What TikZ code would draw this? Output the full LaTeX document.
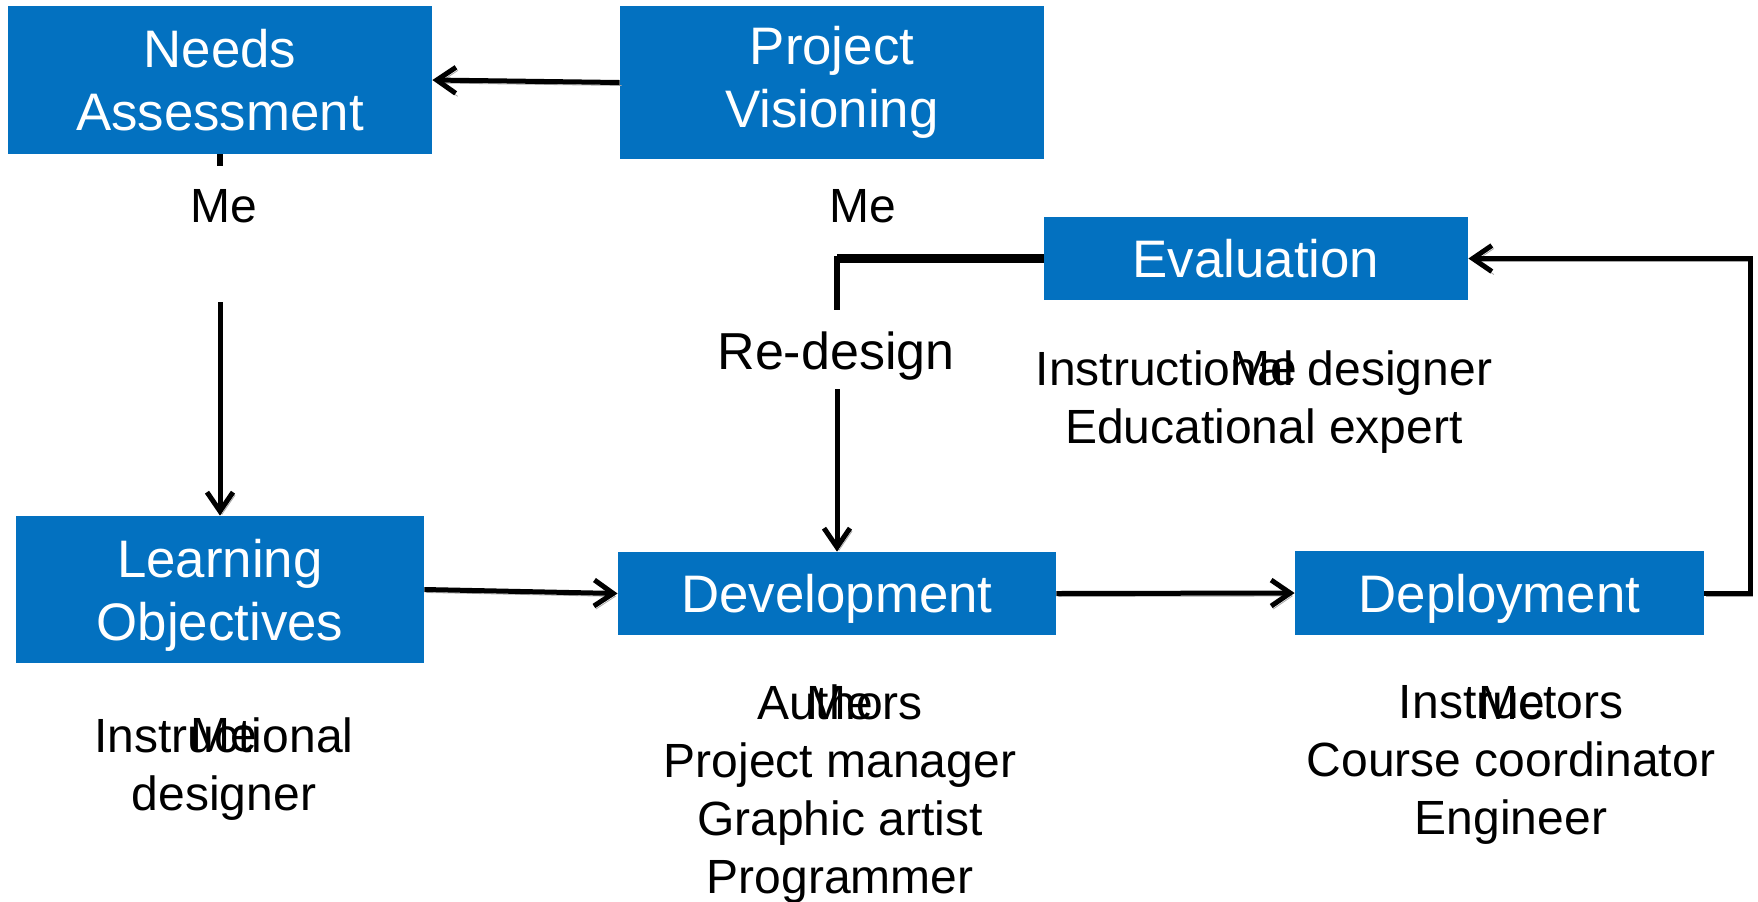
\documentclass[tikz,border=0pt]{standalone}
\usepackage{fontspec}
\setmainfont{Liberation Sans}
\usetikzlibrary{arrows.meta}
\definecolor{stageblue}{HTML}{0371C0}
\definecolor{shadowgray}{HTML}{A6A6A6}

\begin{document}
\begin{tikzpicture}[x=0.5pt, y=-0.5pt,
	stage/.style={fill=stageblue, text=white, inner sep=0pt, align=center, font=\fontsize{26.4}{31.5}\selectfont},
	role/.style={inner sep=0pt, align=center, font=\fontsize{24}{29}\selectfont},
	link/.style={line width=2.5pt, -{Straight Barb[length=9.5pt,width=13pt]}, preaction={draw=shadowgray, transform canvas={shift={(2,3)}}}},
	stub/.style={line width=3pt}]
	\useasboundingbox (0,0) rectangle (1758,901);

	\node[stage, minimum width=212pt, minimum height=74pt] (na) at (220,80) {Needs\\Assessment};
	\node[stage, minimum width=212pt, minimum height=76.5pt] (pv) at (832,82.5) {Project\\Visioning};
	\node[stage, minimum width=212pt, minimum height=41.5pt] (ev) at (1256,258.5) {Evaluation};
	\node[stage, minimum width=204pt, minimum height=73.5pt, text depth=0pt] (lo) at (220,589.5) {Learning\\Objectives};
	\node[stage, minimum width=219pt, minimum height=41.5pt, text depth=0pt] (dv) at (837,593.5) {Development};
	\node[stage, minimum width=204.5pt, minimum height=42pt, text depth=0pt] (dp) at (1499.5,593) {Deployment};

	\node[role] (naMe) at (224,206) {Me};
	\node[role] (pvMe) at (863,206) {Me};
	\node[role, font=\fontsize{26}{31}\selectfont] (redesign) at (836,356) {Re-design};
	\node[role] (evRole) at (1264,401.6) {Instructional designer\\Educational expert};
	\node[role] (evMe) at (1264,368) {Me};
	\node[role] (loRole) at (224,769) {Instructional\\designer};
	\node[role] (loMe) at (224,735) {Me};
	\node[role] (dvRole) at (840,794) {Authors\\Project manager\\Graphic artist\\Programmer};
	\node[role] (dvMe) at (840,703) {Me};
	\node[role] (dpRole) at (1511,765) {Instructors\\Course coordinator\\Engineer};
	\node[role] (dpMe) at (1512,703) {Me};

	\coordinate (naCut) at (220,166);
	\coordinate (naGap) at (220,302);
	\coordinate (rdCorner) at (ev.west -| dv.north);
	\coordinate (rdCut) at (837,310);
	\coordinate (rdGap) at (837,389);

	\draw[link] (pv.west) -- (na.east);
	\draw[stub] (na.south) -- (naCut);
	\draw[link] (naGap) -- (lo.north);
	\draw[link] (lo.east) -- (dv.west);
	\draw[link] (dv.east) -- (dp.west);
	\draw[link] (dp.east) -- ++(46,0) |- (ev.east);
	\draw[stub] (ev.west) -| (rdCut);
	\draw[line width=4.5pt] (ev.west) -- (rdCorner);
	\draw[link] (rdGap) -- (dv.north);
\end{tikzpicture}
\end{document}
